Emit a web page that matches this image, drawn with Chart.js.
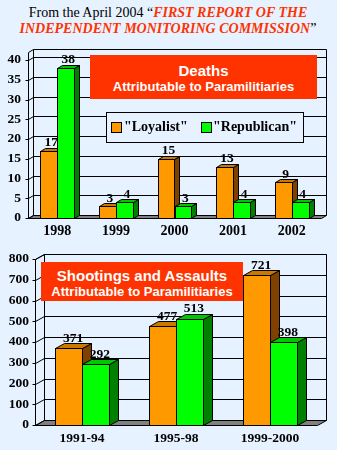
<!DOCTYPE html>
<html>
<head>
<meta charset="utf-8">
<script src="https://cdn.jsdelivr.net/npm/chart.js@4.4.1/dist/chart.umd.min.js"></script>
<style>
  html, body { margin: 0; padding: 0; }
  body { width: 337px; height: 450px; background: #E6F2FF; position: relative; overflow: hidden; }
  #title { position: absolute; left: 0; top: 5px; width: 336px; text-align: center;
    font-family: "Liberation Serif", "Times New Roman", serif; font-size: 14px; line-height: 16px; color: #000; }
  #title .red { color: #FF3300; font-weight: bold; font-style: italic; }
  canvas { position: absolute; left: 0; }
  #c1 { top: 40px; }
  #c2 { top: 240px; }
  .box { position: absolute; background: #FF3300; color: #fff; text-align: center;
    font-family: "Liberation Sans", Arial, sans-serif; font-weight: bold; }
  #box1 { left: 90px; top: 55px; width: 227px; height: 44px; }
  #box2 { left: 41px; top: 262px; width: 202px; height: 39px; }
  .box .l1 { font-size: 15px; line-height: 16px; }
  .box .l2 { font-size: 13px; line-height: 16px; }
  #legend { position: absolute; left: 106px; top: 112px; width: 196px; height: 29px; border: 1px solid #000;
    background: #E6F2FF; font-family: "Liberation Serif", "Times New Roman", serif; font-weight: bold; font-size: 14px; }
  #legend .sw { position: absolute; top: 9px; width: 9px; height: 9px; border: 1px solid #000; }
  #legend .tx { position: absolute; top: 6px; line-height: 16px; white-space: nowrap; }
</style>
</head>
<body>
<div id="title">From the April 2004 “<span class="red">FIRST REPORT OF THE</span><br><span class="red">INDEPENDENT MONITORING COMMISSION</span>”</div>
<canvas id="c1" width="337" height="200"></canvas>
<canvas id="c2" width="337" height="210"></canvas>
<div id="box1" class="box"><div class="l1" style="padding-top:8px">Deaths</div><div class="l2">Attributable to Paramilitiaries</div></div>
<div id="box2" class="box"><div class="l1" style="padding-top:6px">Shootings and Assaults</div><div class="l2">Attributable to Paramilitiaries</div></div>
<div id="legend"></div>
<script>
// ---- data ----
const seriesNames = ['"Loyalist"', '"Republican"'];
const deathYears = ['1998', '1999', '2000', '2001', '2002'];
const deathsLoyalist = [17, 3, 15, 13, 9];
const deathsRepublican = [38, 4, 3, 4, 4];
const deathTicks = [0, 5, 10, 15, 20, 25, 30, 35, 40];
const shootPeriods = ['1991-94', '1995-98', '1999-2000'];
const shootLoyalist = [371, 477, 721];
const shootRepublican = [292, 513, 398];
const shootTicks = [0, 100, 200, 300, 400, 500, 600, 700, 800];

// ---- styles ----
const FRONT = ['#FF9900', '#00FF00'];
const TOPC = ['#C97800', '#00C800'];
const SIDE = ['#804000', '#008000'];
const SERIF = '"Liberation Serif", "Times New Roman", serif';

// legend
const lg = document.getElementById('legend');
const swX = [4, 94], txX = [17, 106];
seriesNames.forEach((n, i) => {
  const sw = document.createElement('div'); sw.className = 'sw'; sw.style.background = FRONT[i]; sw.style.left = swX[i] + 'px';
  const tx = document.createElement('span'); tx.className = 'tx'; tx.textContent = n; tx.style.left = txX[i] + 'px';
  lg.appendChild(sw); lg.appendChild(tx);
});

const threeD = {
  id: 'threeD',
  beforeDatasetsDraw(chart, args, o) {
    const ctx = chart.ctx, a = chart.chartArea, y = chart.scales.y;
    const dx = o.dx, dy = o.dy, ex = o.extra || 0;
    const L = Math.round(a.left) + 0.5, R = Math.round(a.right) + 0.5;
    const B = Math.round(a.bottom) + 0.5, T = Math.round(a.top) + 0.5;
    ctx.save();
    ctx.strokeStyle = '#000'; ctx.lineWidth = 1;
    const line = (x1, y1, x2, y2) => { ctx.beginPath(); ctx.moveTo(x1, y1); ctx.lineTo(x2, y2); ctx.stroke(); };
    // floor
    ctx.fillStyle = '#808080';
    ctx.beginPath();
    ctx.moveTo(L, B); ctx.lineTo(R, B); ctx.lineTo(R + dx, B - dy); ctx.lineTo(L + dx, B - dy); ctx.closePath();
    ctx.fill(); ctx.stroke();
    // back wall
    const wt = T - dy - ex;
    line(L + dx, wt, R + dx, wt);
    line(L + dx, wt, L + dx, B - dy);
    line(R + dx, wt, R + dx, B - dy);
    // left wall front edge
    line(L, B, L, T - ex);
    line(L, T - ex, L + dx, wt);
    // grid lines
    o.ticks.forEach(v => {
      const py = Math.round(y.getPixelForValue(v)) + 0.5;
      line(L - 3, py, L, py);
      line(L, py, L + dx, py - dy);
      if (v !== o.ticks[0]) line(L + dx, py - dy, R + dx, py - dy);
    });
    ctx.restore();
  },
  afterDatasetsDraw(chart, args, o) {
    const ctx = chart.ctx, dx = o.dx, dy = o.dy;
    ctx.save();
    ctx.strokeStyle = '#000'; ctx.lineWidth = 1; ctx.lineJoin = 'miter';
    const nCat = chart.data.labels.length;
    for (let k = 0; k < nCat; k++) {
      chart.data.datasets.forEach((ds, i) => {
        const bar = chart.getDatasetMeta(i).data[k];
        const p = bar.getProps(['x', 'y', 'base', 'width'], true);
        const l = Math.round(p.x - p.width / 2) + 0.5, r = Math.round(p.x + p.width / 2) + 0.5;
        const t = Math.round(p.y) + 0.5, b = Math.round(p.base) + 0.5;
        ctx.fillStyle = FRONT[i];
        ctx.fillRect(l, t, r - l, b - t); ctx.strokeRect(l, t, r - l, b - t);
        ctx.fillStyle = SIDE[i];
        ctx.beginPath(); ctx.moveTo(r, t); ctx.lineTo(r + dx, t - dy); ctx.lineTo(r + dx, b - dy); ctx.lineTo(r, b); ctx.closePath();
        ctx.fill(); ctx.stroke();
        ctx.fillStyle = TOPC[i];
        ctx.beginPath(); ctx.moveTo(l, t); ctx.lineTo(l + dx, t - dy); ctx.lineTo(r + dx, t - dy); ctx.lineTo(r, t); ctx.closePath();
        ctx.fill(); ctx.stroke();
      });
    }
    ctx.fillStyle = '#000';
    ctx.font = 'bold ' + o.valueSize + 'px ' + SERIF;
    ctx.textAlign = 'center'; ctx.textBaseline = 'alphabetic';
    chart.data.datasets.forEach((ds, di) => {
      chart.getDatasetMeta(di).data.forEach((bar, k) => {
        const p = bar.getProps(['x', 'y'], true);
        ctx.fillText(String(ds.data[k]), p.x + dx / 2, p.y - dy - 1.5);
      });
    });
    ctx.restore();
  }
};

function makeChart(id, labels, s1, s2, ticks, cfg) {
  return new Chart(document.getElementById(id), {
    type: 'bar',
    data: {
      labels: labels,
      datasets: [
        { label: seriesNames[0], data: s1, backgroundColor: 'rgba(0,0,0,0)', borderWidth: 0,
          categoryPercentage: cfg.catPct, barPercentage: 1 },
        { label: seriesNames[1], data: s2, backgroundColor: 'rgba(0,0,0,0)', borderWidth: 0,
          categoryPercentage: cfg.catPct, barPercentage: 1 }
      ]
    },
    options: {
      responsive: false, animation: false, devicePixelRatio: 1,
      layout: { padding: { top: cfg.padTop, right: cfg.padRight, left: 0, bottom: 0 } },
      plugins: {
        legend: { display: false }, tooltip: { enabled: false }, title: { display: false },
        threeD: { dx: cfg.dx, dy: cfg.dy, extra: cfg.extra, ticks: ticks, valueSize: cfg.valueSize }
      },
      scales: {
        x: {
          grid: { display: false, drawTicks: false }, border: { display: false },
          ticks: { color: '#000', padding: cfg.xPad, font: { family: SERIF, weight: 'bold', size: cfg.xSize } },
          afterFit: s => { s.height = cfg.xH; }
        },
        y: {
          min: ticks[0], max: ticks[ticks.length - 1],
          grid: { display: false, drawTicks: false }, border: { display: false },
          afterBuildTicks: s => { s.ticks = ticks.map(v => ({ value: v })); },
          ticks: { color: '#000', padding: cfg.yPad, font: { family: SERIF, weight: 'bold', size: cfg.ySize } },
          afterFit: s => { s.width = cfg.yW; }
        }
      }
    },
    plugins: [threeD]
  });
}

makeChart('c1', deathYears, deathsLoyalist, deathsRepublican, deathTicks,
  { catPct: 0.58, padTop: 20, padRight: 16, dx: 5, dy: 3, extra: 8, valueSize: 13.5,
    xPad: 5, xSize: 14, xH: 22, yPad: 7, ySize: 13.5, yW: 28 });
makeChart('c2', shootPeriods, shootLoyalist, shootRepublican, shootTicks,
  { catPct: 0.565, padTop: 19, padRight: 20, dx: 9, dy: 5, extra: 0, valueSize: 13.5,
    xPad: 5, xSize: 13.5, xH: 25, yPad: 6, ySize: 13.5, yW: 35 });
</script>
</body>
</html>
